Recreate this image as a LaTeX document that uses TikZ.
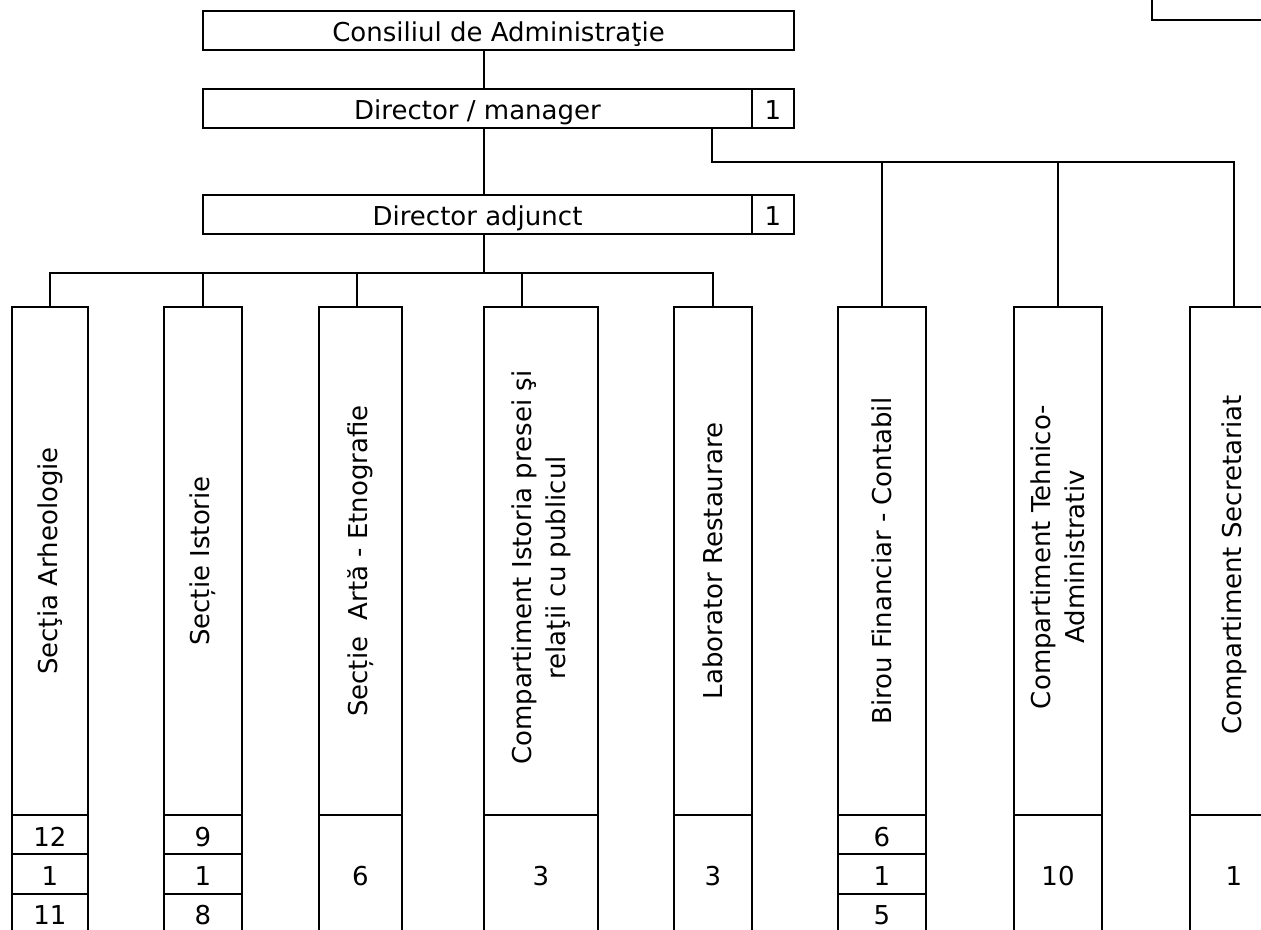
\documentclass[tikz,border=0pt]{standalone}
\usepackage{fontspec}
\setmainfont{DejaVu Sans}
\usetikzlibrary{positioning}
\tikzset{
  caseta/.style={rectangle, draw=black, line width=1.5pt, outer sep=0pt, inner sep=0pt, minimum height=0.97cm, text height=16.5pt, text depth=0pt},
  coloana/.style={rectangle, draw=black, line width=1.5pt, outer sep=0pt, inner sep=0pt, anchor=north west, minimum height=12.7cm},
  titlu/.style={rotate=90, align=center, inner sep=0pt},
  legatura/.style={line width=1.5pt}
}

\begin{document}
\begin{tikzpicture}[font=\fontsize{18.5}{24.2}\selectfont]

    \useasboundingbox (0,0) rectangle (31.525,-23.25);

    % Caseta din colt (taiata de margine)
    \node[caseta, anchor=south west, minimum width=3cm, minimum height=1.5cm] (coltsus) at (28.8,-0.5) {};

    % Conducerea
    \node[caseta, anchor=north west, minimum width=14.775cm] (consiliu) at (5.075,-0.275) {Consiliul de Administraţie};
    \node[caseta, anchor=north west, minimum width=13.725cm] (director) at (5.075,-2.225) {Director / manager};
    \node[caseta, minimum width=1.05cm, right=0pt of director] (directornr) {1};
    \node[caseta, anchor=north west, minimum width=13.725cm] (adjunct) at (5.075,-4.875) {Director adjunct};
    \node[caseta, minimum width=1.05cm, right=0pt of adjunct] (adjunctnr) {1};

    % Puncte de ramificare
    \coordinate (ax) at (12.1,0);
    \coordinate (ramura) at (17.8,-4.05);
    \coordinate (bara) at (0,-6.825);

    % Coloanele compartimentelor
    \foreach \n/\x/\w in {1/0.3/1.9, 2/4.1/1.95, 3/7.975/2.075, 4/12.1/2.85,
                          5/16.85/1.95, 6/20.95/2.2, 7/25.35/2.2, 8/29.75/2.2} {
        \node[coloana, minimum width=\w cm] (c\n) at (\x,-7.675) {};
    }

    % Denumiri (text vertical)
    \foreach \n/\dx/\txt in {
        1/0/{Secţia Arheologie},
        2/0/{Secție Istorie},
        3/0/{Secție\ \ Artă - Etnografie},
        4/-0.17/{Compartiment Istoria presei şi\\relaţii cu publicul},
        5/0/{Laborator Restaurare},
        6/0/{Birou Financiar - Contabil},
        7/0.1/{Compartiment Tehnico-\\Administrativ},
        8/0/{Compartiment Secretariat}
    } {
        \node[titlu, xshift=\dx cm] (t\n) at (c\n.center) {\txt};
    }

    % Numar de posturi - o singura celula
    \foreach \n/\w/\v in {3/2.075/6, 4/2.85/3, 5/1.95/3, 7/2.2/10, 8/2.2/1} {
        \node[caseta, minimum width=\w cm, minimum height=2.95cm, below=0pt of c\n] (n\n) {\v};
    }

    % Numar de posturi - trei celule
    \foreach \n/\w/\a/\b/\c in {1/1.9/12/1/11, 2/1.95/9/1/8, 6/2.2/6/1/5} {
        \node[caseta, minimum width=\w cm, minimum height=0.983cm, below=0pt of c\n] (n\n-a) {\a};
        \node[caseta, minimum width=\w cm, minimum height=0.983cm, below=0pt of n\n-a] (n\n-b) {\b};
        \node[caseta, minimum width=\w cm, minimum height=0.983cm, below=0pt of n\n-b] (n\n-c) {\c};
    }

    % --- LEGATURI ---

    % Linia principala
    \draw[legatura] (consiliu.south -| ax) -- (director.north -| ax);
    \draw[legatura] (director.south -| ax) -- (adjunct.north -| ax);
    \draw[legatura] (adjunct.south -| ax) -- (bara -| ax);

    % Bara de sub directorul adjunct
    \draw[legatura] (c1.north) -- (bara -| c1.north) -- (bara -| c5.north) -- (c5.north);
    \draw[legatura] (bara -| c2.north) -- (c2.north);
    \foreach \n in {3,4} {
        \draw[legatura] ([xshift=0.95cm]c\n.north west |- bara) -- ([xshift=0.95cm]c\n.north west);
    }

    % Ramura din director spre dreapta
    \draw[legatura] (director.south -| ramura) -- (ramura) -| (c8.north);
    \foreach \n in {6,7} {
        \draw[legatura] (ramura -| c\n.north) -- (c\n.north);
    }

\end{tikzpicture}
\end{document}
